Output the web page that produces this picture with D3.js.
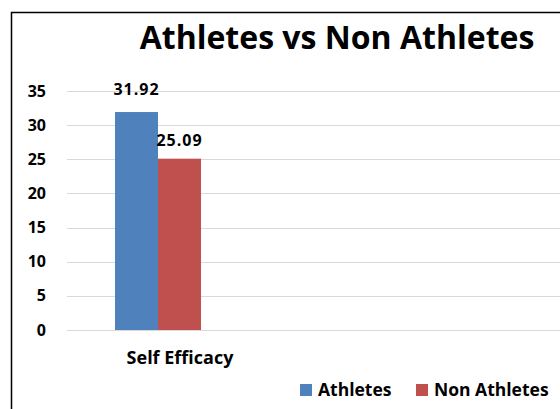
<!DOCTYPE html>
<html>
<head>
<meta charset="utf-8">
<script src="https://cdn.jsdelivr.net/npm/d3@7/dist/d3.min.js"></script>
<style>
    body { margin: 0; background: #fff; }
    svg { display: block; }
    text { font-family: "Open Sans", sans-serif; font-weight: bold; fill: #000; }
</style>
</head>
<body>
<svg id="chart" width="560" height="409"></svg>
<script>
// chart data
var categories = ["Self Efficacy"];
var seriesNames = ["Athletes", "Non Athletes"];
var athletes = [31.92];
var nonAthletes = [25.09];
var yTicks = [0, 5, 10, 15, 20, 25, 30, 35];

var colors = ["#4F81BD", "#C0504D"];
var labelGap = [17, 13];
var seriesValues = [athletes, nonAthletes];

var svg = d3.select("#chart");

// outer frame of the chart (cut off at right and bottom)
svg.append("path")
    .attr("d", "M11.5,409V12.5H560")
    .attr("stroke", "#000")
    .attr("stroke-width", 1.5)
    .attr("fill", "none");

var plotLeft = 67, plotRight = 560, plotTop = 91, plotBottom = 330;

var y = d3.scaleLinear()
    .domain([0, 35])
    .range([plotBottom, plotTop]);

// category band, bars sit in the left part of it (Excel spacing)
var x0 = d3.scaleBand()
    .domain(categories)
    .range([plotLeft, plotLeft + 226])
    .padding(0);

var x1 = d3.scaleBand()
    .domain(seriesNames)
    .range([48, 134])
    .padding(0);

// gridlines
svg.append("g")
    .selectAll("line")
    .data(yTicks)
    .enter()
    .append("line")
    .attr("x1", plotLeft)
    .attr("x2", plotRight)
    .attr("y1", function (d) { return Math.round(y(d)) + 0.5; })
    .attr("y2", function (d) { return Math.round(y(d)) + 0.5; })
    .attr("stroke", "#d9d9d9")
    .attr("stroke-width", 1);

// y axis labels
var yAxis = d3.axisLeft(y)
    .tickValues(yTicks)
    .tickSize(0)
    .tickPadding(0);

var yG = svg.append("g")
    .attr("transform", "translate(46,0)")
    .call(yAxis);
yG.select(".domain").remove();
yG.attr("font-family", null).attr("font-size", null);
yG.selectAll("text")
    .attr("font-size", 16)
    .attr("fill", "#000");

// bars
var rows = categories.map(function (c, i) {
    return seriesNames.map(function (s, j) {
        return { cat: c, series: s, value: seriesValues[j][i], color: colors[j], gap: labelGap[j] };
    });
});

var groups = svg.selectAll(".cat")
    .data(rows)
    .enter()
    .append("g")
    .attr("class", "cat")
    .attr("transform", function (d, i) { return "translate(" + x0(categories[i]) + ",0)"; });

groups.selectAll("rect")
    .data(function (d) { return d; })
    .enter()
    .append("rect")
    .attr("x", function (d) { return x1(d.series); })
    .attr("y", function (d) { return y(d.value); })
    .attr("width", x1.bandwidth())
    .attr("height", function (d) { return y(0) - y(d.value); })
    .attr("fill", function (d) { return d.color; });

groups.selectAll(".val")
    .data(function (d) { return d; })
    .enter()
    .append("text")
    .attr("class", "val")
    .attr("x", function (d) { return x1(d.series) + x1.bandwidth() / 2; })
    .attr("y", function (d) { return y(d.value) - d.gap; })
    .attr("text-anchor", "middle")
    .attr("font-size", 16)
    .attr("letter-spacing", 1)
    .text(function (d) { return d.value.toFixed(2); });

// category labels
svg.selectAll(".catLabel")
    .data(categories)
    .enter()
    .append("text")
    .attr("class", "catLabel")
    .attr("x", function (d) { return x0(d) + x0.bandwidth() / 2; })
    .attr("y", 364)
    .attr("text-anchor", "middle")
    .attr("font-size", 18)
    .text(function (d) { return d; });

// title
svg.append("text")
    .attr("x", 337)
    .attr("y", 49)
    .attr("text-anchor", "middle")
    .attr("font-size", 32)
    .text("Athletes vs Non Athletes");

// legend
var legendX = [300, 416];
var legend = svg.selectAll(".legend")
    .data(seriesNames)
    .enter()
    .append("g")
    .attr("class", "legend")
    .attr("transform", function (d, i) { return "translate(" + legendX[i] + ",384)"; });

legend.append("rect")
    .attr("width", 12)
    .attr("height", 12)
    .attr("fill", function (d, i) { return colors[i]; });

legend.append("text")
    .attr("x", 18)
    .attr("y", 11.5)
    .attr("font-size", 17.5)
    .text(function (d) { return d; });
</script>
</body>
</html>
